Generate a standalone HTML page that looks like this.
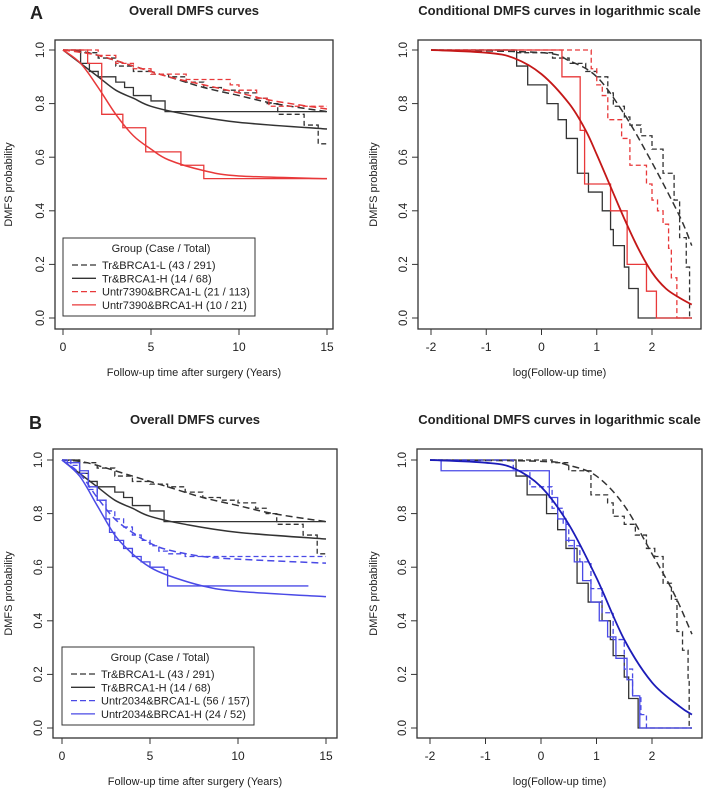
<!DOCTYPE html>
<html><head><meta charset="utf-8"><style>
body{margin:0;background:#fff}
svg text{font-family:"Liberation Sans",sans-serif;fill:#222}
</style></head><body>
<svg id="fig" width="708" height="799" viewBox="0 0 708 799"></svg>
<script>
// ---------- DATA ----------
// Panel A left (years)
const aL_trL_t=[1,2,3,4,5,6,7,8,9,10,11,11.6,12.2,13.7,14.5];
const aL_trL_v=[0.99,0.97,0.94,0.92,0.91,0.90,0.88,0.86,0.85,0.84,0.82,0.80,0.76,0.72,0.65];
const aL_trL_fx=[0,1,2,4,6,8,10,12,15];
const aL_trL_fy=[1,0.995,0.98,0.94,0.90,0.86,0.83,0.80,0.77];
const aL_trH_t=[1,1.5,2,3,3.5,4,5,5.8];
const aL_trH_v=[0.95,0.92,0.90,0.88,0.86,0.83,0.81,0.77];
const aL_trH_fx=[0,1,2,3,4,5,7,10,15];
const aL_trH_fy=[1,0.95,0.90,0.85,0.82,0.79,0.76,0.73,0.705];
const aL_uL_t=[2,3,4,5,7,9.5,10,11,11.7];
const aL_uL_v=[0.98,0.95,0.93,0.91,0.89,0.87,0.85,0.82,0.79];
const aL_uL_fx=[0,2,4,6,8,10,12,15];
const aL_uL_fy=[1,0.98,0.94,0.90,0.87,0.84,0.81,0.78];
const aL_uH_t=[1.4,2.2,3.4,4.7,6.7,8];
const aL_uH_v=[0.95,0.76,0.71,0.62,0.57,0.52];
const aL_uH_fx=[0,1,2,3,4,5,6,8,10,15];
const aL_uH_fy=[1,0.95,0.86,0.76,0.68,0.63,0.59,0.55,0.53,0.52];
// Panel A right (log time)
const aR_trL_t=[-0.5,0.2,0.5,0.8,1.0,1.2,1.3,1.5,1.6,1.8,2.0,2.2,2.4,2.5,2.62,2.68];
const aR_trL_v=[0.99,0.97,0.95,0.92,0.90,0.84,0.79,0.75,0.72,0.68,0.63,0.54,0.44,0.30,0.19,0];
const aR_trL_fx=[-2,0,0.5,1,1.5,2,2.5,2.72];
const aR_trL_fy=[1,0.99,0.96,0.90,0.76,0.58,0.38,0.27];
const aR_trH_t=[-0.45,-0.25,0.1,0.3,0.45,0.65,0.85,1.1,1.25,1.3,1.5,1.58,1.75];
const aR_trH_v=[0.94,0.87,0.80,0.74,0.67,0.54,0.47,0.40,0.33,0.27,0.19,0.11,0];
const aR_uL_t=[0.9,1.0,1.1,1.2,1.45,1.6,1.9,2.0,2.1,2.2,2.3,2.35,2.45];
const aR_uL_v=[0.93,0.87,0.83,0.74,0.67,0.57,0.50,0.44,0.40,0.35,0.26,0.15,0];
const aR_uH_t=[0.37,0.7,0.78,1.25,1.55,1.9,2.08];
const aR_uH_v=[0.9,0.7,0.5,0.4,0.2,0.1,0];
const aR_uH_fx=[-2,-1,-0.5,0,0.5,0.8,1,1.25,1.5,1.75,2,2.25,2.5,2.72];
const aR_uH_fy=[1,0.99,0.97,0.91,0.80,0.70,0.61,0.49,0.37,0.26,0.17,0.11,0.075,0.05];
// Panel B left
const bL_uL_t=[0.5,1,1.5,2,2.5,3,3.5,4,4.5,5,5.5,6,7];
const bL_uL_v=[0.98,0.95,0.89,0.85,0.81,0.78,0.75,0.72,0.70,0.68,0.66,0.65,0.64];
const bL_uL_fx=[0,1,2,3,4,5,6,8,10,15];
const bL_uL_fy=[1,0.95,0.86,0.78,0.73,0.69,0.665,0.64,0.63,0.615];
const bL_uH_t=[0.3,1,1.5,2,2.5,2.7,3,3.5,4,4.5,5,5.8,6];
const bL_uH_v=[0.99,0.96,0.90,0.85,0.78,0.73,0.70,0.67,0.64,0.62,0.60,0.59,0.53];
const bL_uH_fx=[0,1,2,3,4,5,6,8,10,15];
const bL_uH_fy=[1,0.94,0.83,0.72,0.65,0.60,0.57,0.53,0.51,0.49];
// Panel B right
const bR_trL_t=[0.2,0.5,0.9,1.2,1.3,1.5,1.7,1.9,2.05,2.2,2.35,2.45,2.55,2.65,2.67];
const bR_trL_v=[0.99,0.96,0.87,0.84,0.79,0.76,0.72,0.67,0.64,0.54,0.48,0.36,0.29,0.18,0];
const bR_trL_fx=[-2,0,0.5,1,1.5,2,2.4,2.72];
const bR_trL_fy=[1,0.995,0.98,0.94,0.83,0.65,0.50,0.35];
const bR_uL_t=[-0.5,-0.2,0.2,0.4,0.5,0.7,0.9,1.1,1.3,1.5,1.65,1.8,1.9];
const bR_uL_v=[0.96,0.90,0.82,0.76,0.68,0.62,0.52,0.43,0.33,0.22,0.12,0.05,0];
const bR_uH_t=[-1.8,0.15,0.3,0.45,0.6,0.75,0.9,1.05,1.2,1.35,1.55,1.65,1.78];
const bR_uH_v=[0.96,0.86,0.78,0.70,0.62,0.55,0.47,0.40,0.34,0.26,0.18,0.12,0];
const bR_uH_fx=[-2,-1,-0.5,0,0.5,1,1.5,2,2.5,2.72];
const bR_uH_fy=[1,0.99,0.97,0.90,0.76,0.56,0.33,0.17,0.08,0.05];
const yTicks=["0.0","0.2","0.4","0.6","0.8","1.0"];
const xTicksLeft=[0,5,10,15];
const xTicksRight=[-2,-1,0,1,2];
// ---------- DRAW ----------
const NS="http://www.w3.org/2000/svg",svg=document.getElementById('fig');
function mk(tag,attrs,parent){const e=document.createElementNS(NS,tag);for(const k in attrs)e.setAttribute(k,attrs[k]);(parent||svg).appendChild(e);return e;}
function smooth(pts){let d=`M${pts[0][0]},${pts[0][1]}`;
  for(let i=0;i<pts.length-1;i++){const p0=pts[Math.max(0,i-1)],p1=pts[i],p2=pts[i+1],p3=pts[Math.min(pts.length-1,i+2)];
    const c1=[p1[0]+(p2[0]-p0[0])/6,p1[1]+(p2[1]-p0[1])/6],c2=[p2[0]-(p3[0]-p1[0])/6,p2[1]-(p3[1]-p1[1])/6];
    d+=`C${c1[0]},${c1[1]} ${c2[0]},${c2[1]} ${p2[0]},${p2[1]}`;}
  return d;}
const BK="#333",RD="#e8393a",RDF="#c41818",BL="#4a4ae6",BLF="#1c1cb8";
function panel(p){
  const g=mk('g',{});
  
  
  const sx=v=>p.x0+(v-p.d0)/(p.d1-p.d0)*(p.x1-p.x0);
  const sy=v=>p.y0-v*(p.y0-p.y1);
  const box=mk('rect',{x:p.bx0,y:p.by0,width:p.bx1-p.bx0,height:p.by1-p.by0,fill:'none',stroke:'#333','stroke-width':1.3},g);
  
  yTicks.forEach((t,i)=>{const v=+t,y=sy(v);
    mk('line',{x1:p.bx0-6,x2:p.bx0,y1:y,y2:y,stroke:'#333'},g);
    const tx=mk('text',{x:p.bx0-11,y:y,'font-size':11.5,'text-anchor':'middle',transform:`rotate(-90 ${p.bx0-11} ${y})`},g);tx.textContent=t;
    });
  mk('line',{x1:sx(p.ticks[0]),x2:sx(p.ticks[p.ticks.length-1]),y1:p.by1,y2:p.by1,stroke:'#333'},g);
  p.ticks.forEach(t=>{const x=sx(t);mk('line',{x1:x,x2:x,y1:p.by1,y2:p.by1+6,stroke:'#333'},g);
    const tx=mk('text',{x:x,y:p.by1+22,'font-size':12,'text-anchor':'middle'},g);tx.textContent=t;
    });
  const yl=mk('text',{x:p.ylx,y:(p.by0+p.by1)/2,'font-size':11,'text-anchor':'middle',transform:`rotate(-90 ${p.ylx} ${(p.by0+p.by1)/2})`},g);yl.textContent='DMFS probability';
  
  const xl=mk('text',{x:(p.bx0+p.bx1)/2,y:p.by1+47,'font-size':11,'text-anchor':'middle'},g);xl.textContent=p.xlabel;
  
  const ti=mk('text',{x:(p.bx0+p.bx1)/2,y:p.by0-25,'font-size':13,'font-weight':'bold','text-anchor':'middle'},g);ti.textContent=p.title;
  
  p.series.forEach(s=>{
    if(s.t){let d=`M${sx(p.d0)},${sy(1)}`;let prev=1;
      s.t.forEach((t,i)=>{d+=`L${sx(t)},${sy(prev)}L${sx(t)},${sy(s.v[i])}`;prev=s.v[i];});
      d+=`L${sx(s.end)},${sy(prev)}`;
      const e=mk('path',{d:d,fill:'none',stroke:s.c,'stroke-width':1.3,'stroke-dasharray':s.dash?'5,3':'none'},g);
      }
    if(s.fx){const d=smooth(s.fx.map((x,i)=>[sx(x),sy(s.fy[i])]));
      const e=mk('path',{d:d,fill:'none',stroke:s.fc||s.c,'stroke-width':s.fw||1.5,'stroke-dasharray':s.dash?'7,4':'none'},g);
      }
  });
  if(p.legend){const L=p.legend;
    const lb=mk('rect',{x:L.x,y:L.y,width:192,height:78,fill:'#fff',stroke:'#333'},g);
    
    const lt=mk('text',{x:L.x+98,y:L.y+14,'font-size':11,'text-anchor':'middle'},g);lt.textContent='Group (Case / Total)';
    
    L.items.forEach((it,i)=>{const y=L.y+27+i*13.3;
      mk('line',{x1:L.x+9,x2:L.x+33,y1:y,y2:y,stroke:it.c,'stroke-width':1.3,'stroke-dasharray':it.dash?'6,3':'none'},g);
      const t=mk('text',{x:L.x+39,y:y+4,'font-size':11},g);t.textContent=it.label;
      });}
}
const lt="Follow-up time after surgery (Years)",rt="log(Follow-up time)";
panel({name:'panel-a-overall',bx0:55,bx1:333,by0:40,by1:329,x0:63,x1:327,d0:0,d1:15,y0:318,y1:50,ticks:xTicksLeft,ylx:12,xlabel:lt,title:'Overall DMFS curves',
 series:[{name:'tr-l',c:BK,dash:1,t:aL_trL_t,v:aL_trL_v,end:15,fx:aL_trL_fx,fy:aL_trL_fy},
  {name:'tr-h',c:BK,t:aL_trH_t,v:aL_trH_v,end:15,fx:aL_trH_fx,fy:aL_trH_fy},
  {name:'untr7390-l',c:RD,dash:1,t:aL_uL_t,v:aL_uL_v,end:15,fx:aL_uL_fx,fy:aL_uL_fy},
  {name:'untr7390-h',c:RD,t:aL_uH_t,v:aL_uH_v,end:15,fx:aL_uH_fx,fy:aL_uH_fy}],
 legend:{x:63,y:238,items:[{c:BK,dash:1,label:'Tr&BRCA1-L (43 / 291)'},{c:BK,label:'Tr&BRCA1-H (14 / 68)'},{c:RD,dash:1,label:'Untr7390&BRCA1-L (21 / 113)'},{c:RD,label:'Untr7390&BRCA1-H (10 / 21)'}]}});
panel({name:'panel-a-conditional',bx0:418,bx1:701,by0:40,by1:329,x0:431,x1:652,d0:-2,d1:2,y0:318,y1:50,ticks:xTicksRight,ylx:377,xlabel:rt,title:'Conditional DMFS curves in logarithmic scale',
 series:[{name:'tr-l',c:BK,dash:1,t:aR_trL_t,v:aR_trL_v,end:2.72,fx:aR_trL_fx,fy:aR_trL_fy},
  {name:'tr-h',c:BK,t:aR_trH_t,v:aR_trH_v,end:2.72},
  {name:'untr7390-l',c:RD,dash:1,t:aR_uL_t,v:aR_uL_v,end:2.72},
  {name:'untr7390-h',c:RD,t:aR_uH_t,v:aR_uH_v,end:2.72,fx:aR_uH_fx,fy:aR_uH_fy,fc:RDF,fw:1.8}]});
panel({name:'panel-b-overall',bx0:53,bx1:337,by0:449,by1:738,x0:62,x1:326,d0:0,d1:15,y0:728,y1:460,ticks:xTicksLeft,ylx:12,xlabel:lt,title:'Overall DMFS curves',
 series:[{name:'tr-l',c:BK,dash:1,t:aL_trL_t,v:aL_trL_v,end:15,fx:aL_trL_fx,fy:aL_trL_fy},
  {name:'tr-h',c:BK,t:aL_trH_t,v:aL_trH_v,end:15,fx:aL_trH_fx,fy:aL_trH_fy},
  {name:'untr2034-l',c:BL,dash:1,t:bL_uL_t,v:bL_uL_v,end:15,fx:bL_uL_fx,fy:bL_uL_fy},
  {name:'untr2034-h',c:BL,t:bL_uH_t,v:bL_uH_v,end:14,fx:bL_uH_fx,fy:bL_uH_fy}],
 legend:{x:62,y:647,items:[{c:BK,dash:1,label:'Tr&BRCA1-L (43 / 291)'},{c:BK,label:'Tr&BRCA1-H (14 / 68)'},{c:BL,dash:1,label:'Untr2034&BRCA1-L (56 / 157)'},{c:BL,label:'Untr2034&BRCA1-H (24 / 52)'}]}});
panel({name:'panel-b-conditional',bx0:417,bx1:702,by0:449,by1:738,x0:430,x1:652,d0:-2,d1:2,y0:728,y1:460,ticks:xTicksRight,ylx:377,xlabel:rt,title:'Conditional DMFS curves in logarithmic scale',
 series:[{name:'tr-l',c:BK,dash:1,t:bR_trL_t,v:bR_trL_v,end:2.72,fx:bR_trL_fx,fy:bR_trL_fy},
  {name:'tr-h',c:BK,t:aR_trH_t,v:aR_trH_v,end:2.72},
  {name:'untr2034-l',c:BL,dash:1,t:bR_uL_t,v:bR_uL_v,end:2.72},
  {name:'untr2034-h',c:BL,t:bR_uH_t,v:bR_uH_v,end:2.72,fx:bR_uH_fx,fy:bR_uH_fy,fc:BLF,fw:1.8}]});
const A=mk('text',{x:30,y:19,'font-size':18,'font-weight':'bold'});A.textContent='A';

const B=mk('text',{x:29,y:429,'font-size':18,'font-weight':'bold'});B.textContent='B';

</script>
</body></html>
